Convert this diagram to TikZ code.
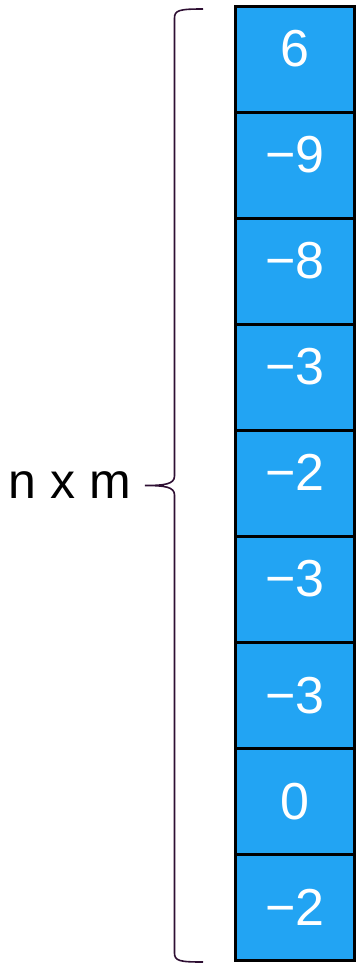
\documentclass[tikz,border=0pt]{standalone}
\usepackage{fontspec}
\setmainfont{Liberation Sans}
\usetikzlibrary{positioning}
\definecolor{cellBlue}{HTML}{22A4F3}
\definecolor{braceInk}{HTML}{2E0F33}

\begin{document}
\begin{tikzpicture}[x=1pt, y=1pt,
  cell/.style={draw=black, fill=cellBlue, line width=2.4pt, outer sep=0pt, inner sep=0pt, minimum width=119pt, minimum height=106pt, text=white, font=\fontsize{52}{60}\selectfont},
  up/.style={text depth=22pt},
  brc/.style={draw=braceInk, line width=1.6pt},
  dimlab/.style={inner sep=0pt, font=\fontsize{50}{60}\selectfont}]
\useasboundingbox (0,0) rectangle (360,-967);
% column of values
\node[cell, up] (c1) at (295,-59.5) {6};
\node[cell, up, below=0pt of c1] (c2) {−9};
\node[cell, up, below=0pt of c2] (c3) {−8};
\node[cell, up, below=0pt of c3] (c4) {−3};
\node[cell, up, below=0pt of c4] (c5) {−2};
\node[cell, up, below=0pt of c5] (c6) {−3};
\node[cell, below=0pt of c6] (c7) {−3};
\node[cell, below=0pt of c7] (c8) {0};
\node[cell, below=0pt of c8] (c9) {−2};
% brace
\coordinate (btop) at (203,-9);
\coordinate (bbot) at (203,-962);
\coordinate (tip) at (145,-485.5);
\draw[brc] (btop) .. controls (180,-9) and (174.5,-10) .. (174.5,-18)
  -- (174.5,-476) .. controls (174.5,-484) and (165,-485.5) .. (tip)
  .. controls (165,-485.5) and (174.5,-487) .. (174.5,-495)
  -- (174.5,-953) .. controls (174.5,-961) and (180,-962) .. (bbot);
\node[dimlab, left=14pt of tip] (dim) {n x m};
\end{tikzpicture}
\end{document}
